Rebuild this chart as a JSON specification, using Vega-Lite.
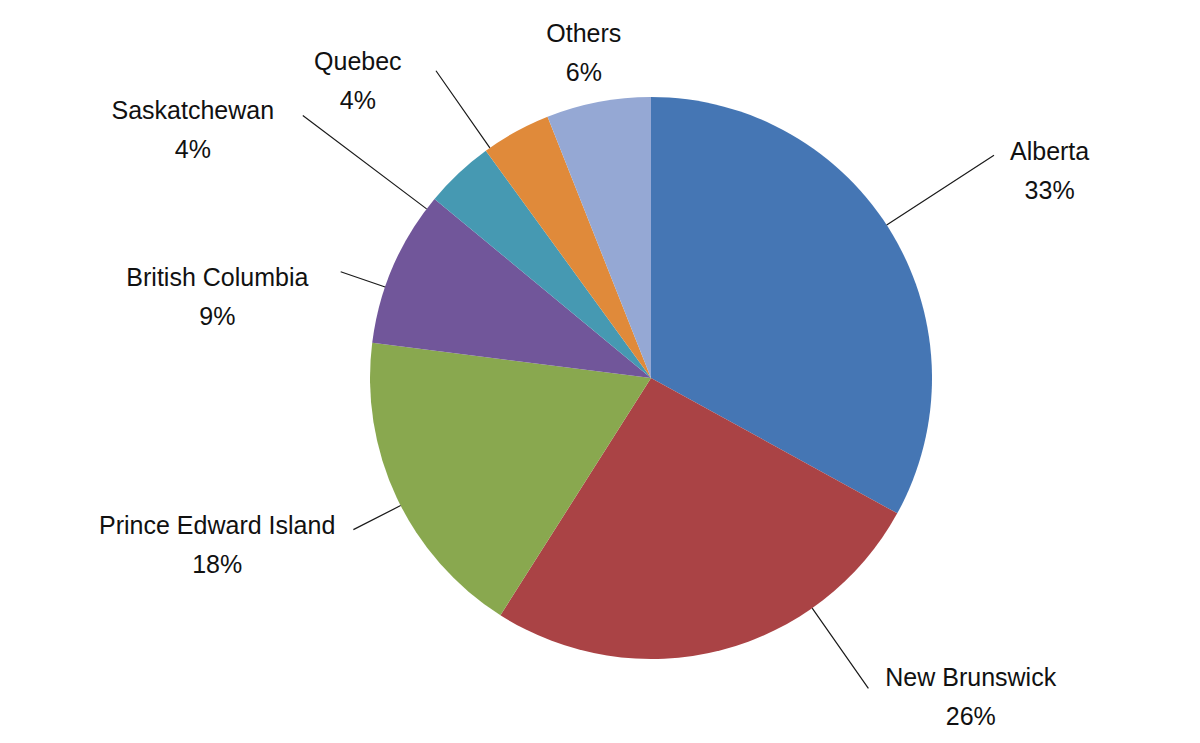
{
  "$schema": "https://vega.github.io/schema/vega-lite/v6.json",
  "width": 1098,
  "height": 734,
  "autosize": {"type": "none"},
  "padding": {"left": 102, "top": 11, "right": 0, "bottom": 0},
  "background": "white",
  "config": {"view": {"stroke": null}},
  "data": {
    "values": [
      {"region": "Alberta", "share": 33, "order": 1},
      {"region": "New Brunswick", "share": 26, "order": 2},
      {"region": "Prince Edward Island", "share": 18, "order": 3},
      {"region": "British Columbia", "share": 9, "order": 4},
      {"region": "Saskatchewan", "share": 4, "order": 5},
      {"region": "Quebec", "share": 4, "order": 6},
      {"region": "Others", "share": 6, "order": 7}
    ]
  },
  "transform": [
    {"stack": "share", "groupby": [], "sort": [{"field": "order", "order": "ascending"}], "as": ["start", "end"]},
    {"calculate": "(datum.start + datum.end) / 2", "as": "mid"},
    {"calculate": "datum.region + '\\n' + datum.share + '%'", "as": "label"}
  ],
  "layer": [
    {
      "mark": {"type": "arc", "radius": 281},
      "encoding": {
        "theta": {"field": "start", "type": "quantitative", "scale": {"domain": [0, 100]}},
        "theta2": {"field": "end"},
        "color": {
          "field": "region",
          "type": "nominal",
          "scale": {
            "domain": ["Alberta", "New Brunswick", "Prince Edward Island", "British Columbia", "Saskatchewan", "Quebec", "Others"],
            "range": ["#4576B4", "#AA4345", "#89A84F", "#71569A", "#4699B2", "#E08A3A", "#95A8D4"]
          },
          "legend": null
        }
      }
    },
    {
      "transform": [{"filter": "datum.region === 'Alberta'"}],
      "layer": [
        {"mark": {"type": "arc", "radius": 409, "radius2": 281, "thetaOffset": -0.042, "theta2Offset": -0.042, "fill": "transparent", "stroke": "#1a1a1a", "strokeWidth": 1.2},
         "encoding": {"theta": {"field": "mid", "type": "quantitative", "scale": {"domain": [0, 100]}}, "theta2": {"field": "mid"}}},
        {"mark": {"type": "text", "radius": 448, "dx": 13, "dy": 2, "align": "center", "baseline": "middle", "lineBreak": "\n", "lineHeight": 39, "font": "Liberation Sans", "fontSize": 25, "color": "#111"},
         "encoding": {"theta": {"field": "mid", "type": "quantitative", "scale": {"domain": [0, 100]}}, "text": {"field": "label"}}}
      ]
    },
    {
      "transform": [{"filter": "datum.region === 'New Brunswick'"}],
      "layer": [
        {"mark": {"type": "arc", "radius": 379, "radius2": 281, "thetaOffset": -0.3595, "theta2Offset": -0.3595, "fill": "transparent", "stroke": "#1a1a1a", "strokeWidth": 1.2},
         "encoding": {"theta": {"field": "mid", "type": "quantitative", "scale": {"domain": [0, 100]}}, "theta2": {"field": "mid"}}},
        {"mark": {"type": "text", "radius": 389, "dx": 223, "dy": -77, "align": "center", "baseline": "middle", "lineBreak": "\n", "lineHeight": 39, "font": "Liberation Sans", "fontSize": 25, "color": "#111"},
         "encoding": {"theta": {"field": "mid", "type": "quantitative", "scale": {"domain": [0, 100]}}, "text": {"field": "label"}}}
      ]
    },
    {
      "transform": [{"filter": "datum.region === 'Prince Edward Island'"}],
      "layer": [
        {"mark": {"type": "arc", "radius": 334, "radius2": 281, "thetaOffset": -0.0314, "theta2Offset": -0.0314, "fill": "transparent", "stroke": "#1a1a1a", "strokeWidth": 1.2},
         "encoding": {"theta": {"field": "mid", "type": "quantitative", "scale": {"domain": [0, 100]}}, "theta2": {"field": "mid"}}},
        {"mark": {"type": "text", "radius": 464, "dx": -14, "dy": -50, "align": "center", "baseline": "middle", "lineBreak": "\n", "lineHeight": 39, "font": "Liberation Sans", "fontSize": 25, "color": "#111"},
         "encoding": {"theta": {"field": "mid", "type": "quantitative", "scale": {"domain": [0, 100]}}, "text": {"field": "label"}}}
      ]
    },
    {
      "transform": [{"filter": "datum.region === 'British Columbia'"}],
      "layer": [
        {"mark": {"type": "arc", "radius": 328, "radius2": 281, "thetaOffset": -0.0785, "theta2Offset": -0.0785, "fill": "transparent", "stroke": "#1a1a1a", "strokeWidth": 1.2},
         "encoding": {"theta": {"field": "mid", "type": "quantitative", "scale": {"domain": [0, 100]}}, "theta2": {"field": "mid"}}},
        {"mark": {"type": "text", "radius": 430, "dx": -39, "dy": 71, "align": "center", "baseline": "middle", "lineBreak": "\n", "lineHeight": 39, "font": "Liberation Sans", "fontSize": 25, "color": "#111"},
         "encoding": {"theta": {"field": "mid", "type": "quantitative", "scale": {"domain": [0, 100]}}, "text": {"field": "label"}}}
      ]
    },
    {
      "transform": [{"filter": "datum.region === 'Saskatchewan'"}],
      "layer": [
        {"mark": {"type": "arc", "radius": 436, "radius2": 281, "thetaOffset": -0.171, "theta2Offset": -0.171, "fill": "transparent", "stroke": "#1a1a1a", "strokeWidth": 1.2},
         "encoding": {"theta": {"field": "mid", "type": "quantitative", "scale": {"domain": [0, 100]}}, "theta2": {"field": "mid"}}},
        {"mark": {"type": "text", "radius": 494, "dx": -120, "dy": 93, "align": "center", "baseline": "middle", "lineBreak": "\n", "lineHeight": 39, "font": "Liberation Sans", "fontSize": 25, "color": "#111"},
         "encoding": {"theta": {"field": "mid", "type": "quantitative", "scale": {"domain": [0, 100]}}, "text": {"field": "label"}}}
      ]
    },
    {
      "transform": [{"filter": "datum.region === 'Quebec'"}],
      "layer": [
        {"mark": {"type": "arc", "radius": 375, "radius2": 281, "thetaOffset": -0.108, "theta2Offset": -0.108, "fill": "transparent", "stroke": "#1a1a1a", "strokeWidth": 1.2},
         "encoding": {"theta": {"field": "mid", "type": "quantitative", "scale": {"domain": [0, 100]}}, "theta2": {"field": "mid"}}},
        {"mark": {"type": "text", "radius": 401, "dx": -100, "dy": 35, "align": "center", "baseline": "middle", "lineBreak": "\n", "lineHeight": 39, "font": "Liberation Sans", "fontSize": 25, "color": "#111"},
         "encoding": {"theta": {"field": "mid", "type": "quantitative", "scale": {"domain": [0, 100]}}, "text": {"field": "label"}}}
      ]
    },
    {
      "transform": [{"filter": "datum.region === 'Others'"}],
      "mark": {"type": "text", "radius": 332, "dx": -5, "dy": -18, "align": "center", "baseline": "middle", "lineBreak": "\n", "lineHeight": 39, "font": "Liberation Sans", "fontSize": 25, "color": "#111"},
      "encoding": {"theta": {"field": "mid", "type": "quantitative", "scale": {"domain": [0, 100]}}, "text": {"field": "label"}}
    }
  ]
}
